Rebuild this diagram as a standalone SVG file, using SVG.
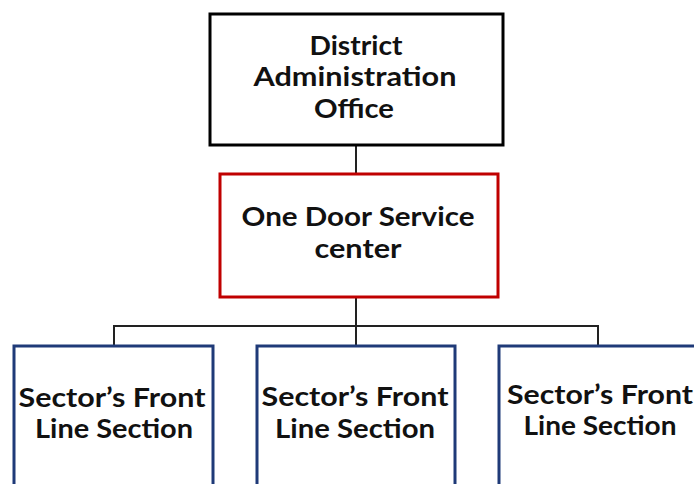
<svg xmlns="http://www.w3.org/2000/svg" width="694" height="484" viewBox="0 0 694 484">
  <style>
    .box { fill: #ffffff; stroke-width: 3; }
    .top { stroke: #000000; }
    .odsc { stroke: #c00000; }
    .sector { stroke: #1f3a78; }
    .lbl { font-family: Lato, "Open Sans", "Liberation Sans", sans-serif; font-weight: bold; font-size: 26px; fill: #111111; text-anchor: middle; }
    .wire { fill: none; stroke: #222222; stroke-width: 2; }
  </style>

  <g id="connectors">
    <line class="wire" x1="356" y1="145" x2="356" y2="174"/>
    <line class="wire" x1="356" y1="297" x2="356" y2="346"/>
    <polyline class="wire" points="114,346 114,326 598,326 598,346"/>
  </g>

  <g id="district-office">
    <rect class="box top" x="210" y="14" width="293" height="131"/>
    <text class="lbl" x="356" y="55" textLength="93" lengthAdjust="spacingAndGlyphs">District</text>
    <text class="lbl" x="355" y="86" textLength="203" lengthAdjust="spacingAndGlyphs">Administration</text>
    <text class="lbl" x="354" y="118" textLength="80" lengthAdjust="spacingAndGlyphs">Office</text>
  </g>

  <g id="one-door-service">
    <rect class="box odsc" x="220" y="174" width="278" height="123"/>
    <text class="lbl" x="358" y="226" textLength="233" lengthAdjust="spacingAndGlyphs">One Door Service</text>
    <text class="lbl" x="358" y="258" textLength="87" lengthAdjust="spacingAndGlyphs">center</text>
  </g>

  <g id="sector-left">
    <rect class="box sector" x="14" y="346" width="199" height="150"/>
    <text class="lbl" x="112" y="407" textLength="187" lengthAdjust="spacingAndGlyphs">Sector’s Front</text>
    <text class="lbl" x="114" y="438" textLength="158" lengthAdjust="spacingAndGlyphs">Line Section</text>
  </g>

  <g id="sector-middle">
    <rect class="box sector" x="257" y="346" width="198" height="150"/>
    <text class="lbl" x="355" y="406" textLength="187" lengthAdjust="spacingAndGlyphs">Sector’s Front</text>
    <text class="lbl" x="355" y="438" textLength="160" lengthAdjust="spacingAndGlyphs">Line Section</text>
  </g>

  <g id="sector-right">
    <rect class="box sector" x="499" y="346" width="210" height="150"/>
    <text class="lbl" x="600" y="404" textLength="186" lengthAdjust="spacingAndGlyphs">Sector’s Front</text>
    <text class="lbl" x="600" y="435" textLength="153" lengthAdjust="spacingAndGlyphs">Line Section</text>
  </g>
</svg>
